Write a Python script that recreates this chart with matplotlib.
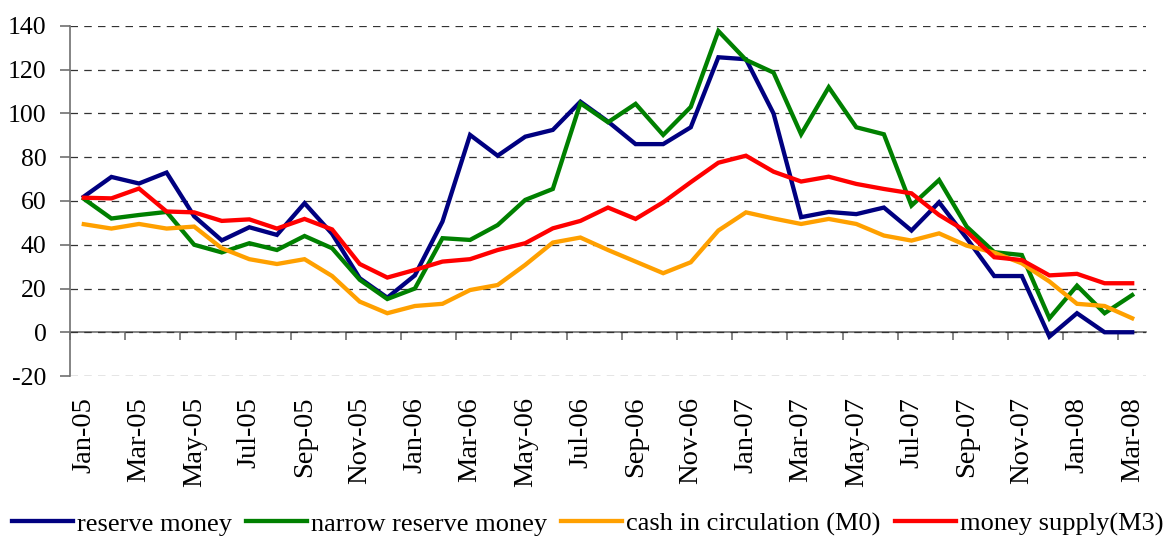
import numpy as np
import matplotlib
matplotlib.use("Agg")
import matplotlib.pyplot as plt

plt.rcParams['font.family'] = ['Liberation Serif', 'DejaVu Serif']
plt.rcParams['axes.unicode_minus'] = False

# months Jan-05 .. Mar-08
months = ['Jan-05', 'Feb-05', 'Mar-05', 'Apr-05', 'May-05', 'Jun-05', 'Jul-05', 'Aug-05',
          'Sep-05', 'Oct-05', 'Nov-05', 'Dec-05', 'Jan-06', 'Feb-06', 'Mar-06', 'Apr-06',
          'May-06', 'Jun-06', 'Jul-06', 'Aug-06', 'Sep-06', 'Oct-06', 'Nov-06', 'Dec-06',
          'Jan-07', 'Feb-07', 'Mar-07', 'Apr-07', 'May-07', 'Jun-07', 'Jul-07', 'Aug-07',
          'Sep-07', 'Oct-07', 'Nov-07', 'Dec-07', 'Jan-08', 'Feb-08', 'Mar-08']

reserve_money = [62, 71, 68, 73, 53, 42, 48, 44.5, 59, 45, 24.7, 15.8,
                 26, 50.6, 90.2, 80.7, 89.4, 92.5, 105.4, 96.3, 86, 86, 93.7, 125.7,
                 124.8, 100, 52.6, 55, 54, 57, 46.5, 59.4, 43, 25.7, 25.7, -2,
                 8.7, 0, 0]
narrow_reserve = [61, 52, 53.6, 55, 40, 36.5, 40.7, 37.6, 44, 38.4, 24, 15.2,
                  20, 43, 42.2, 49, 60.5, 65.5, 104.7, 96, 104.4, 90.2, 103, 137.7,
                  124.5, 118.7, 90.5, 112, 93.7, 90.5, 57.9, 69.6, 48.3, 36.6, 35.3, 6.4,
                  21.3, 8.7, 17]
cash_m0 = [49.4, 47.4, 49.5, 47.4, 48.3, 38.4, 33.4, 31.2, 33.4, 25.7, 14, 8.7,
           12, 13, 19.3, 21.6, 30.8, 41, 43.3, 37.6, 32.3, 27, 32, 46.5,
           54.8, 52, 49.5, 51.8, 49.5, 44.2, 41.9, 45.2, 39.6, 36.4, 31.5, 23.2,
           13, 12, 6.4]
money_m3 = [61.5, 61.2, 65.7, 55.2, 54.8, 50.9, 51.6, 47.4, 51.8, 47, 31.2, 25,
            28.5, 32.3, 33.4, 37.6, 40.7, 47.5, 50.9, 57, 51.8, 59.4, 68.6, 77.5,
            80.7, 73.4, 68.9, 71.1, 67.8, 65.5, 63.5, 53.6, 46, 34.3, 33, 26,
            26.7, 22.4, 22.4]

series = [
    ('reserve money', reserve_money, '#000080'),
    ('narrow reserve money', narrow_reserve, '#008000'),
    ('cash in circulation (M0)', cash_m0, '#FFA000'),
    ('money supply(M3)', money_m3, '#FF0000'),
]

fig = plt.figure(figsize=(11.75, 5.38), dpi=100)
ax = fig.add_axes([0.0596, 0.3011, 0.9157, 0.6506])

x = np.arange(len(months))
for name, vals, col in series:
    ax.plot(x, vals, color=col, lw=3.1, label=name, solid_joinstyle='miter')

ax.set_xlim(-0.5, len(months) - 0.5)
ax.set_ylim(-20, 140)
ax.set_yticks(np.arange(-20, 141, 20))
ax.yaxis.grid(True, color='#333333', linestyle=(0, (6, 5)), lw=0.9)
ax.set_axisbelow(True)

for s in ['top', 'right', 'bottom']:
    ax.spines[s].set_visible(False)
ax.spines['left'].set_color('#707070')
ax.spines['left'].set_linewidth(1.2)
ax.tick_params(axis='y', length=7, width=1.2, color='#707070', pad=10, labelsize=18.5)

# month labels every second month, below the plot area
ax.set_xticks(x[::2])
ax.set_xticklabels(months[::2], rotation=90, fontsize=20.5)
ax.tick_params(axis='x', length=0, pad=15)

# category axis crossing at zero with tick marks between categories
sec = ax.secondary_xaxis(0.125)
sec.set_xticks(np.arange(-0.5, len(months), 2))
sec.tick_params(axis='x', direction='out', length=6, width=1.2, color='#707070', labelbottom=False)
sec.spines['bottom'].set_color('#707070')
sec.spines['bottom'].set_linewidth(1.2)

fig.legend(loc='center', bbox_to_anchor=(0.5, 1 - 524 / 538), ncol=4, frameon=False,
           fontsize=19, handlelength=2.3, handletextpad=0.15, columnspacing=0.55)

fig.savefig('out.png', dpi=100)
